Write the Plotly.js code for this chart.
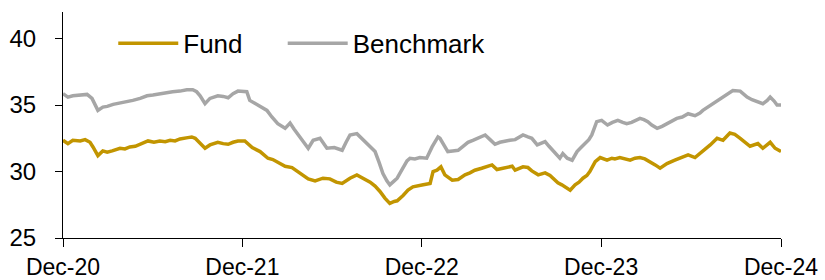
<!DOCTYPE html>
<html>
<head>
<meta charset="utf-8">
<script src="https://cdn.plot.ly/plotly-3.0.1.min.js"></script>
<style>html,body{margin:0;padding:0;background:#fff;}#chart{width:825px;height:280px;}</style>
</head>
<body>
<div id="chart"></div>
<script>
// ---- data ----
const fundDates = ["2020-12-31","2021-01-10","2021-01-20","2021-02-04","2021-02-14","2021-02-24","2021-03-02","2021-03-12","2021-03-22","2021-03-31","2021-04-10","2021-04-26","2021-05-06","2021-05-16","2021-05-27","2021-06-06","2021-06-22","2021-07-04","2021-07-16","2021-07-27","2021-08-06","2021-08-16","2021-08-26","2021-09-11","2021-09-19","2021-09-26","2021-10-06","2021-10-16","2021-10-26","2021-11-11","2021-11-22","2021-12-02","2021-12-12","2021-12-22","2022-01-05","2022-01-20","2022-02-05","2022-02-21","2022-03-03","2022-03-11","2022-03-28","2022-04-11","2022-04-19","2022-04-27","2022-05-14","2022-05-28","2022-06-13","2022-06-27","2022-07-10","2022-07-22","2022-08-07","2022-08-21","2022-09-03","2022-09-17","2022-09-27","2022-10-07","2022-10-17","2022-10-27","2022-11-05","2022-11-11","2022-11-23","2022-12-03","2022-12-13","2022-12-23","2023-01-03","2023-01-17","2023-01-23","2023-01-31","2023-02-08","2023-02-16","2023-03-03","2023-03-15","2023-03-29","2023-04-08","2023-04-18","2023-05-02","2023-05-15","2023-05-23","2023-06-02","2023-06-12","2023-06-22","2023-07-03","2023-07-09","2023-07-19","2023-07-25","2023-08-04","2023-08-12","2023-08-25","2023-09-08","2023-09-18","2023-09-24","2023-10-04","2023-10-12","2023-10-18","2023-10-29","2023-11-08","2023-11-16","2023-11-24","2023-12-02","2023-12-08","2023-12-19","2023-12-29","2024-01-06","2024-01-12","2024-01-22","2024-01-28","2024-02-07","2024-02-18","2024-02-28","2024-03-09","2024-03-19","2024-03-29","2024-04-08","2024-04-19","2024-04-29","2024-05-13","2024-05-29","2024-06-09","2024-06-17","2024-06-25","2024-07-09","2024-07-25","2024-08-09","2024-08-23","2024-09-04","2024-09-18","2024-09-28","2024-10-09","2024-10-19","2024-10-29","2024-11-14","2024-11-24","2024-12-09","2024-12-19","2024-12-31"];
const fundValues = [32.35,32.1,32.35,32.3,32.4,32.2,31.85,31.2,31.55,31.45,31.55,31.75,31.7,31.85,31.9,32.05,32.3,32.2,32.3,32.25,32.35,32.3,32.45,32.55,32.6,32.5,32.1,31.75,32.0,32.2,32.1,32.05,32.2,32.3,32.3,31.8,31.5,31.0,30.9,30.75,30.4,30.3,30.1,29.95,29.45,29.3,29.5,29.45,29.2,29.1,29.5,29.75,29.5,29.2,28.9,28.5,28.0,27.6,27.75,27.8,28.2,28.6,28.85,28.95,29.0,29.1,30.0,30.1,30.35,29.75,29.35,29.4,29.75,29.9,30.1,30.25,30.4,30.5,30.15,30.25,30.3,30.4,30.1,30.25,30.35,30.3,30.05,29.75,29.9,29.7,29.5,29.15,29.0,28.85,28.6,29.0,29.2,29.5,29.7,30.0,30.75,31.05,30.95,30.85,31.0,30.95,31.05,30.95,30.85,31.0,31.05,30.95,30.75,30.5,30.25,30.6,30.85,31.0,31.1,31.25,31.05,31.5,32.0,32.5,32.35,32.9,32.8,32.5,32.2,31.9,32.1,31.75,32.2,31.75,31.5];

const benchDates = ["2020-12-31","2021-01-10","2021-01-20","2021-02-04","2021-02-18","2021-02-28","2021-03-06","2021-03-12","2021-03-22","2021-03-31","2021-04-12","2021-04-26","2021-05-08","2021-05-22","2021-06-06","2021-06-20","2021-07-02","2021-07-16","2021-07-30","2021-08-11","2021-08-26","2021-09-09","2021-09-21","2021-09-29","2021-10-06","2021-10-16","2021-10-26","2021-11-11","2021-11-22","2021-12-02","2021-12-12","2021-12-22","2022-01-09","2022-01-15","2022-01-27","2022-02-09","2022-02-19","2022-03-01","2022-03-13","2022-03-28","2022-04-07","2022-04-15","2022-04-23","2022-05-03","2022-05-14","2022-05-24","2022-06-07","2022-06-21","2022-07-06","2022-07-22","2022-07-30","2022-08-07","2022-08-21","2022-08-31","2022-09-11","2022-09-21","2022-09-27","2022-10-05","2022-10-13","2022-10-21","2022-10-27","2022-11-05","2022-11-11","2022-11-17","2022-11-23","2022-12-01","2022-12-07","2022-12-17","2022-12-27","2023-01-10","2023-01-21","2023-02-02","2023-02-06","2023-02-14","2023-02-22","2023-03-04","2023-03-15","2023-03-25","2023-04-04","2023-04-14","2023-04-24","2023-05-09","2023-05-19","2023-05-29","2023-06-08","2023-06-18","2023-06-28","2023-07-09","2023-07-17","2023-07-25","2023-08-04","2023-08-12","2023-08-23","2023-08-31","2023-09-08","2023-09-16","2023-09-24","2023-10-02","2023-10-08","2023-10-14","2023-10-23","2023-11-02","2023-11-12","2023-11-20","2023-11-28","2023-12-06","2023-12-12","2023-12-22","2024-01-01","2024-01-07","2024-01-13","2024-01-23","2024-02-03","2024-02-13","2024-02-21","2024-03-02","2024-03-10","2024-03-19","2024-03-27","2024-04-04","2024-04-12","2024-04-23","2024-05-03","2024-05-13","2024-05-23","2024-06-02","2024-06-13","2024-06-25","2024-07-09","2024-07-19","2024-07-25","2024-08-04","2024-08-12","2024-08-21","2024-08-29","2024-09-06","2024-09-12","2024-09-24","2024-10-09","2024-10-17","2024-10-23","2024-11-02","2024-11-12","2024-11-24","2024-12-03","2024-12-09","2024-12-17","2024-12-23","2024-12-31"];
const benchValues = [35.85,35.6,35.7,35.75,35.8,35.5,35.1,34.6,34.85,34.9,35.05,35.15,35.2,35.35,35.5,35.7,35.75,35.85,35.9,36.0,36.05,36.15,36.15,36.0,35.7,35.1,35.5,35.7,35.65,35.55,35.85,36.05,36.0,35.35,35.1,34.85,34.6,34.1,33.6,33.25,33.65,33.2,32.75,32.3,31.75,32.35,32.5,31.75,31.8,31.6,32.2,32.75,32.85,32.5,32.1,31.8,31.5,30.7,29.85,29.3,29.0,29.3,29.5,29.9,30.35,30.8,31.0,30.95,31.05,31.0,31.85,32.6,32.5,32.0,31.5,31.55,31.6,31.9,32.2,32.35,32.5,32.75,32.4,32.05,32.2,32.3,32.35,32.4,32.55,32.75,32.6,32.5,32.0,32.15,32.25,31.9,31.6,31.3,31.0,31.35,31.0,30.85,31.5,31.8,32.1,32.4,32.75,33.75,33.85,33.7,33.5,33.7,33.85,33.7,33.6,33.7,33.85,34.0,33.9,33.75,33.5,33.25,33.4,33.6,33.8,34.0,34.1,34.35,34.2,34.4,34.6,34.85,35.1,35.3,35.5,35.7,35.85,36.1,36.05,35.8,35.6,35.4,35.25,35.1,35.35,35.6,35.3,35.0,35.0];

const seriesNames = ["Fund", "Benchmark"];
const tickDates = ["2020-12-31","2021-12-31","2022-12-31","2023-12-31","2024-12-31"];
const tickLabels = ["Dec-20","Dec-21","Dec-22","Dec-23","Dec-24"];
const yTicks = [25, 30, 35, 40];

// ---- chart ----
const FONT = "Liberation Sans, Arial, sans-serif";
const traces = [
  {x: fundDates, y: fundValues, name: seriesNames[0], type: "scatter", mode: "lines",
   line: {color: "#C29500", width: 3.5}, legend: "legend"},
  {x: benchDates, y: benchValues, name: seriesNames[1], type: "scatter", mode: "lines",
   line: {color: "#A6A6A6", width: 3.5}, legend: "legend2"}
];
const legendBase = {orientation: "h", y: 0.965, xanchor: "left", yanchor: "top",
  font: {family: FONT, size: 26, color: "#000"}, bgcolor: "rgba(0,0,0,0)", itemwidth: 60};
const layout = {
  width: 825, height: 280,
  margin: {l: 63, r: 44, t: 12, b: 42, pad: 0},
  paper_bgcolor: "#fff", plot_bgcolor: "#fff",
  font: {family: FONT, color: "#000", size: 24},
  showlegend: true,
  legend: Object.assign({}, legendBase, {x: 0.07}),
  legend2: Object.assign({}, legendBase, {x: 0.306}),
  xaxis: {type: "date", range: [tickDates[0], tickDates[tickDates.length-1]],
          tickmode: "array", tickvals: tickDates, ticktext: tickLabels,
          showgrid: false, zeroline: false, showline: true, linecolor: "#000", linewidth: 1,
          ticks: "outside", ticklen: 8, tickcolor: "#000", tickwidth: 1,
          tickfont: {family: FONT, size: 23, color: "#000"}, fixedrange: true},
  yaxis: {range: [25, 42], tickmode: "array", tickvals: yTicks,
          showgrid: false, zeroline: false, showline: true, linecolor: "#000", linewidth: 1,
          ticks: "outside", ticklen: 7, tickcolor: "#000", tickwidth: 1, ticklabelstandoff: 14,
          tickfont: {family: FONT, size: 24, color: "#000"}, fixedrange: true}
};
Plotly.newPlot("chart", traces, layout, {displayModeBar: false, staticPlot: true});
</script>
</body>
</html>
